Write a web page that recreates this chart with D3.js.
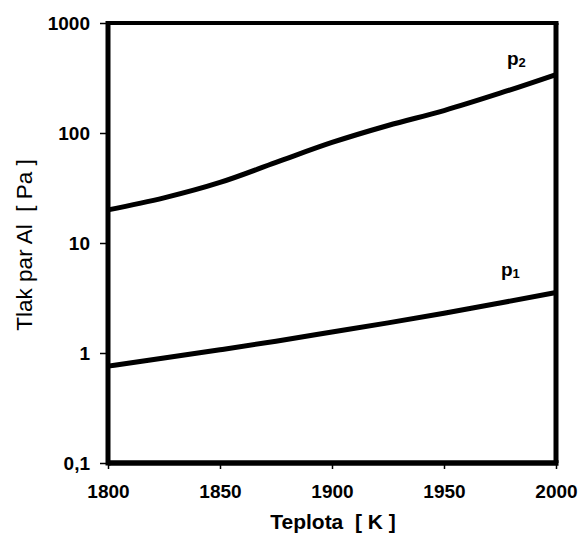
<!DOCTYPE html>
<html>
<head>
<meta charset="utf-8">
<script src="https://cdn.jsdelivr.net/npm/d3@7"></script>
<style>
  html, body { margin: 0; padding: 0; background: #fff; }
  svg { display: block; }
  text { font-family: "Liberation Sans", Arial, sans-serif; fill: #000; }
</style>
</head>
<body>
<svg id="chart" width="580" height="543"></svg>
<script>
// Temperature in K
const temperature = [1800, 1825, 1850, 1875, 1900, 1925, 1950, 1975, 2000];
// Vapour pressure of Al, Pa
const pressureP2 = [20, 25.7, 35.5, 54, 82, 117, 160, 230, 340];
const pressureP1 = [0.76, 0.9, 1.07, 1.28, 1.55, 1.88, 2.3, 2.85, 3.55];

const xTicks = [1800, 1850, 1900, 1950, 2000];
const yTicks = [0.1, 1, 10, 100, 1000];
const yTickLabels = ["0,1", "1", "10", "100", "1000"];

const svg = d3.select("#chart");
const plotLeft = 108, plotRight = 556, plotTop = 23, plotBottom = 463;

const x = d3.scaleLinear().domain([1800, 2000]).range([plotLeft, plotRight]);
const y = d3.scaleLog().domain([0.1, 1000]).range([plotBottom, plotTop]);

// Tick marks and labels
const yAxis = d3.axisLeft(y).tickValues(yTicks).tickSize(8).tickPadding(10)
  .tickFormat((d, i) => yTickLabels[i]);
const xAxis = d3.axisBottom(x).tickValues(xTicks).tickSize(6).tickPadding(16)
  .tickFormat(d3.format("d"));

const gy = svg.append("g").attr("transform", `translate(${plotLeft},0)`).call(yAxis);
const gx = svg.append("g").attr("transform", `translate(0,${plotBottom})`).call(xAxis);
[gx, gy].forEach(g => {
  g.select(".domain").remove();
  g.selectAll(".tick line").attr("stroke", "#000").attr("stroke-width", 1.5);
  g.selectAll(".tick text")
    .style("font-family", '"Liberation Sans", Arial, sans-serif')
    .style("font-weight", "bold").style("font-size", "19px").attr("fill", "#000");
});

// Frame
svg.append("line").attr("x1", plotLeft).attr("x2", plotRight + 2.5).attr("y1", plotTop).attr("y2", plotTop)
  .attr("stroke", "#000").attr("stroke-width", 4);
svg.append("line").attr("x1", plotRight).attr("x2", plotRight).attr("y1", plotTop).attr("y2", plotBottom)
  .attr("stroke", "#000").attr("stroke-width", 5);
svg.append("line").attr("x1", plotLeft).attr("x2", plotLeft).attr("y1", plotTop - 2).attr("y2", plotBottom + 2.5)
  .attr("stroke", "#000").attr("stroke-width", 5);
svg.append("line").attr("x1", plotLeft).attr("x2", plotRight + 2.5).attr("y1", plotBottom).attr("y2", plotBottom)
  .attr("stroke", "#000").attr("stroke-width", 5.5);

// Curves
const line = d3.line().x((d, i) => x(temperature[i])).y(d => y(d)).curve(d3.curveMonotoneX);
[pressureP2, pressureP1].forEach(series => {
  svg.append("path").attr("d", line(series)).attr("fill", "none")
    .attr("stroke", "#000").attr("stroke-width", 5);
});

// Curve labels
function curveLabel(px, py, sub) {
  const t = svg.append("text").attr("x", px).attr("y", py)
    .style("font-weight", "bold").style("font-size", "19px");
  t.append("tspan").text("p");
  t.append("tspan").attr("dy", 2).style("font-size", "13px").text(sub);
}
curveLabel(507, 65, "2");
curveLabel(501, 276, "1");

// Axis titles
svg.append("text").attr("x", 333).attr("y", 529).attr("text-anchor", "middle")
  .style("font-weight", "bold").style("font-size", "21px")
  .attr("xml:space", "preserve").text("Teplota  [ K ]");
svg.append("text").attr("transform", "translate(32,245) rotate(-90)").attr("text-anchor", "middle")
  .style("font-size", "22.5px").attr("xml:space", "preserve").text("Tlak par Al  [ Pa ]");
</script>
</body>
</html>
